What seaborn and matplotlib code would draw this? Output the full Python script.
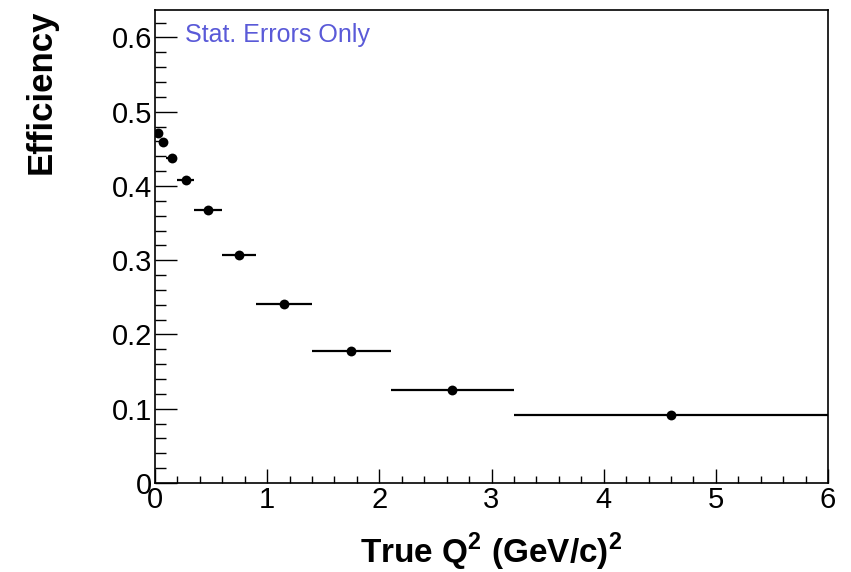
import numpy as np
import pandas as pd
import matplotlib
matplotlib.use("Agg")
import matplotlib.pyplot as plt
from matplotlib.ticker import MultipleLocator, FuncFormatter
import seaborn as sns

# Data
bin_lo = [0.0, 0.05, 0.1, 0.2, 0.35, 0.6, 0.9, 1.4, 2.1, 3.2]
bin_hi = [0.05, 0.1, 0.2, 0.35, 0.6, 0.9, 1.4, 2.1, 3.2, 6.0]
efficiency = [0.471, 0.459, 0.438, 0.408, 0.368, 0.307, 0.241, 0.178, 0.125, 0.092]

df = pd.DataFrame({"lo": bin_lo, "hi": bin_hi, "eff": efficiency})
df["x"] = (df["lo"] + df["hi"]) / 2
df["xerr"] = (df["hi"] - df["lo"]) / 2

sns.set_style("white")
plt.rcParams["font.family"] = ["Liberation Sans", "DejaVu Sans"]
plt.rcParams["mathtext.fontset"] = "custom"
plt.rcParams["mathtext.rm"] = "Liberation Sans"
plt.rcParams["mathtext.bf"] = "Liberation Sans:bold"
plt.rcParams["text.color"] = "black"
plt.rcParams["axes.labelcolor"] = "black"
plt.rcParams["xtick.color"] = "black"
plt.rcParams["ytick.color"] = "black"

fig = plt.figure(figsize=(8.51, 5.72), dpi=100)
ax = fig.add_axes([155/851, 1-483/572, (828-155)/851, (483-10)/572])

ax.errorbar(df["x"], df["eff"], xerr=df["xerr"], fmt="none", ecolor="black",
            elinewidth=1.6, capsize=0, zorder=2)
sns.scatterplot(data=df, x="x", y="eff", ax=ax, color="black", s=50,
                edgecolor="black", linewidth=0, zorder=3, legend=False)

ax.set_xlim(0, 6)
ax.set_ylim(0, 0.637)

ax.xaxis.set_major_locator(MultipleLocator(1))
ax.xaxis.set_minor_locator(MultipleLocator(0.2))
ax.yaxis.set_major_locator(MultipleLocator(0.1))
ax.yaxis.set_minor_locator(MultipleLocator(0.02))

def yfmt(v, pos):
    if abs(v) < 1e-9:
        return "0"
    return f"{v:.1f}"
ax.yaxis.set_major_formatter(FuncFormatter(yfmt))

ax.tick_params(bottom=True, left=True, top=False, right=False, which="both")
ax.tick_params(axis="x", which="major", direction="in", length=10, width=1,
               labelsize=21, pad=2, colors="black")
ax.tick_params(axis="x", which="minor", direction="in", length=5, width=1, colors="black")
ax.tick_params(axis="y", which="major", direction="in", length=16, width=1,
               labelsize=21, pad=2, colors="black")
ax.tick_params(axis="y", which="minor", direction="in", length=8, width=1, colors="black")

for s in ax.spines.values():
    s.set_visible(True)
    s.set_color("black")
    s.set_linewidth(1.2)

ax.set_xlabel(r"True Q$^{\mathbf{2}}$ (GeV/c)$^{\mathbf{2}}$", fontsize=24,
              fontweight="bold", color="black")
ax.xaxis.set_label_coords(0.5, -0.102)
ax.set_ylabel("Efficiency", fontsize=25, fontweight="bold", ha="right", color="black")
ax.yaxis.set_label_coords(-0.145, 1.0)

ax.text(0.045, 0.947, "Stat. Errors Only", transform=ax.transAxes, color="#5a5ad8",
        fontsize=18, ha="left", va="center")

fig.savefig("out.png", dpi=100)
